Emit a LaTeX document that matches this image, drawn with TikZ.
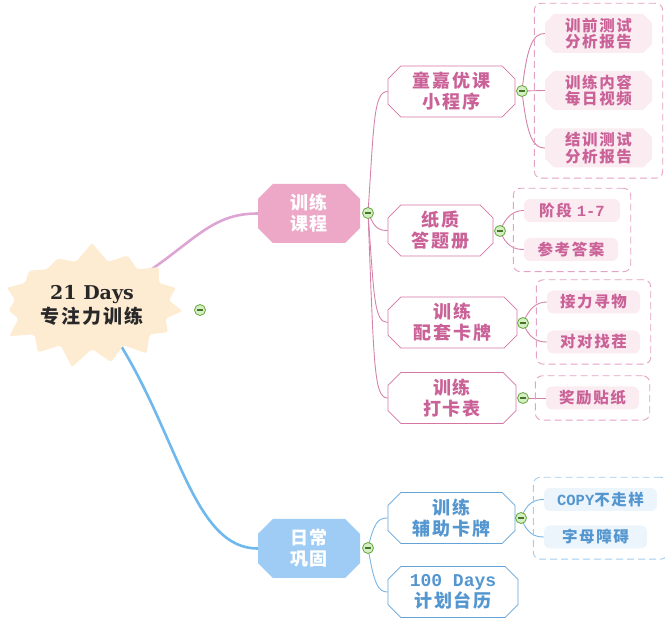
\documentclass[tikz,border=0pt]{standalone}
\usepackage{fontspec}
\usetikzlibrary{shapes.misc,shapes.symbols,fit,backgrounds}
\newfontfamily\cjk{Noto Sans CJK SC}[LetterSpace=10]
\newfontfamily\latinmono{Liberation Mono}
\newfontfamily\burstfont{DejaVu Serif}
\definecolor{burstfill}{RGB}{254,236,210}
\definecolor{rootink}{RGB}{40,40,40}
\definecolor{rosemain}{RGB}{238,168,199}
\definecolor{roselink}{RGB}{221,165,212}
\definecolor{roseedge}{RGB}{212,118,165}
\definecolor{roseink}{RGB}{202,98,152}
\definecolor{rosetwig}{RGB}{214,130,170}
\definecolor{roseleaffill}{RGB}{251,236,242}
\definecolor{rosedash}{RGB}{228,162,196}
\definecolor{skymain}{RGB}{158,204,244}
\definecolor{skylink}{RGB}{110,184,238}
\definecolor{skyedge}{RGB}{100,162,215}
\definecolor{skyink}{RGB}{84,150,208}
\definecolor{skytwig}{RGB}{120,180,228}
\definecolor{skyleaffill}{RGB}{236,244,252}
\definecolor{skydash}{RGB}{160,205,240}
\definecolor{togglefill}{RGB}{214,238,196}
\definecolor{togglegreen}{RGB}{98,168,58}

\tikzset{
  burst/.style={starburst, starburst points=15, starburst point height=20pt,
    random starburst=7, fill=burstfill, draw=none, rounded corners=2pt,
    minimum width=140pt, minimum height=128pt, align=center, text=rootink,
    font=\bfseries\fontsize{19}{24}\selectfont},
  topic/.style={chamfered rectangle, chamfered rectangle xsep=12pt,
    minimum width=102pt, minimum height=59pt, inner sep=0pt, align=center,
    text=white, font=\cjk\bfseries\fontsize{18}{21}\selectfont},
  rosetopic/.style={topic, fill=rosemain},
  skytopic/.style={topic, fill=skymain},
  subtopic/.style={chamfered rectangle, chamfered rectangle xsep=10pt,
    minimum height=51pt, inner sep=0pt, fill=white, line width=0.8pt,
    align=center, font=\cjk\bfseries\fontsize{18}{21}\selectfont},
  rosesub/.style={subtopic, draw=roseedge, text=roseink},
  skysub/.style={subtopic, draw=skyedge, text=skyink},
  leaf/.style={rectangle, rounded corners=6pt, inner sep=0pt,
    minimum height=23pt, align=center,
    font=\cjk\bfseries\fontsize{15.5}{16.5}\selectfont},
  twoleaf/.style={leaf, chamfered rectangle, chamfered rectangle xsep=6pt,
    rounded corners=0pt, minimum width=107pt, minimum height=39pt},
  roseleaf/.style={leaf, fill=roseleaffill, text=roseink},
  skyleaf/.style={leaf, fill=skyleaffill, text=skyink},
  leafbox/.style={draw, rounded corners=7pt, dash pattern=on 7pt off 4pt,
    line width=0.9pt, inner sep=10.5pt},
  roseleafbox/.style={leafbox, draw=rosedash},
  skyleafbox/.style={leafbox, draw=skydash},
  toggle/.style={circle, draw=togglegreen, fill=togglefill, line width=0.8pt,
    minimum size=11pt, inner sep=0pt,
    path picture={\draw[togglegreen!70!black, line width=1.1pt]
      ([xshift=-3pt]path picture bounding box.center) --
      ([xshift=3pt]path picture bounding box.center);}},
  trunkrose/.style={draw=roselink, line width=2.6pt},
  trunksky/.style={draw=skylink, line width=2.6pt},
  twigrose/.style={draw=rosetwig, line width=0.9pt},
  twigsky/.style={draw=skytwig, line width=0.9pt}
}

\begin{document}
\begin{tikzpicture}[x=1pt,y=-1pt]
  \useasboundingbox (0,0) rectangle (665,620);
  % root
  \node[burst] (root) at (92,305) {{\burstfont\bfseries 21 Days}\\{\cjk\bfseries\fontsize{19}{24}\selectfont 专注力训练}};
  \node[toggle] (tg0) at (200,310) {};
  % main topics
  \node[rosetopic] (course) at (309,213.5) {训练\\课程};
  \node[toggle] (tgc) at (368,213) {};
  \node[skytopic] (daily) at (309,548.5) {日常\\巩固};
  \node[toggle] (tgd) at (368,548) {};
  % sub topics
  \node[rosesub, minimum width=127pt] (app) at (451.5,91.5) {童嘉优课\\小程序};
  \node[toggle] (tga) at (522,91) {};
  \node[rosesub, minimum width=105pt] (book) at (440.5,230.5) {纸质\\答题册};
  \node[toggle] (tgb) at (500,231) {};
  \node[rosesub, minimum width=129pt] (cards) at (452.5,322.5) {训练\\配套卡牌};
  \node[toggle] (tgk) at (523,323) {};
  \node[rosesub, minimum width=128pt] (chart) at (452,398) {训练\\打卡表};
  \node[toggle] (tgh) at (523,398) {};
  \node[skysub, minimum width=127pt] (helper) at (451.5,518) {训练\\辅助卡牌};
  \node[toggle] (tgx) at (521,518) {};
  \node[skysub, minimum width=130pt] (plan) at (453,592) {{\latinmono 100 Days}\\计划台历};
  % leaves
  \node[roseleaf, twoleaf] (pre) at (598.5,33.5) {训前测试\\分析报告};
  \node[roseleaf, twoleaf] (video) at (598.5,90.5) {训练内容\\每日视频};
  \node[roseleaf, twoleaf] (post) at (598.5,148) {结训测试\\分析报告};
  \node[roseleaf, minimum width=96pt] (stage) at (572,210.5) {阶段 {\latinmono 1-7}};
  \node[roseleaf, minimum width=94pt] (answer) at (571,249.5) {参考答案};
  \node[roseleaf, minimum width=93pt] (relay) at (593.5,302) {接力寻物};
  \node[roseleaf, minimum width=93pt] (spot) at (593.5,342) {对对找茬};
  \node[roseleaf, minimum width=93pt] (sticker) at (592.5,398) {奖励贴纸};
  \node[skyleaf, minimum width=113pt] (copy) at (600.5,499.5) {{\latinmono COPY}不走样};
  \node[skyleaf, minimum width=103pt] (letters) at (595.5,537) {字母障碍};
  % dashed groups
  \node[roseleafbox, fit=(pre)(post)] (gapp) {};
  \node[roseleafbox, fit=(stage)(answer)] (gbook) {};
  \node[roseleafbox, fit=(relay)(spot)] (gcards) {};
  \node[roseleafbox, fit=(sticker)] (gchart) {};
  \node[skyleafbox, fit=(copy)(letters)] (ghelper) {};
  % connectors
  \begin{scope}[on background layer]
    \draw[trunkrose] (root.center) .. controls (190,255) and (200,213.5) .. (course.west);
    \draw[trunksky] (root.center) .. controls (175,405) and (185,548.5) .. (daily.west);
    \draw[twigrose] (tgc.center) .. controls +(6,-90) and +(-14,0) .. (app.west);
    \draw[twigrose] (tgc.center) .. controls +(6,12) and +(-12,0) .. (book.west);
    \draw[twigrose] (tgc.center) .. controls +(6,80) and +(-14,0) .. (cards.west);
    \draw[twigrose] (tgc.center) .. controls +(6,150) and +(-14,0) .. (chart.west);
    \draw[twigrose] (tga.center) .. controls +(5,-45) and +(-12,0) .. (pre.west);
    \draw[twigrose] (tga.center) -- (video.west);
    \draw[twigrose] (tga.center) .. controls +(5,45) and +(-12,0) .. (post.west);
    \draw[twigrose] (tgb.center) .. controls +(6,-15) and +(-10,0) .. (stage.west);
    \draw[twigrose] (tgb.center) .. controls +(6,15) and +(-10,0) .. (answer.west);
    \draw[twigrose] (tgk.center) .. controls +(6,-15) and +(-10,0) .. (relay.west);
    \draw[twigrose] (tgk.center) .. controls +(6,15) and +(-10,0) .. (spot.west);
    \draw[twigrose] (tgh.center) -- (sticker.west);
    \draw[twigsky] (tgd.center) .. controls +(6,-25) and +(-10,0) .. (helper.west);
    \draw[twigsky] (tgd.center) .. controls +(6,35) and +(-10,0) .. (plan.west);
    \draw[twigsky] (tgx.center) .. controls +(6,-15) and +(-10,0) .. (copy.west);
    \draw[twigsky] (tgx.center) .. controls +(6,15) and +(-10,0) .. (letters.west);
  \end{scope}
\end{tikzpicture}
\end{document}
